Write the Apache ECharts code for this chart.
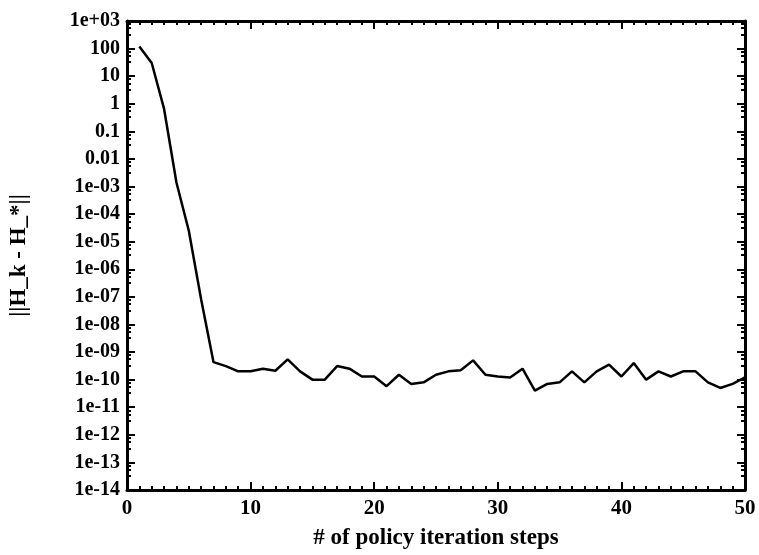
<!DOCTYPE html>
<html>
<head>
<meta charset="utf-8">
<script src="https://cdn.jsdelivr.net/npm/echarts@6/dist/echarts.min.js"></script>
<style>
  html, body { margin: 0; padding: 0; background: #fff; }
  #chart { width: 759px; height: 555px; }
</style>
</head>
<body>
<div id="chart"></div>
<script>
// policy iteration step numbers
var steps = [1, 2, 3, 4, 5, 6, 7, 8, 9, 10,
  11, 12, 13, 14, 15, 16, 17, 18, 19, 20,
  21, 22, 23, 24, 25, 26, 27, 28, 29, 30,
  31, 32, 33, 34, 35, 36, 37, 38, 39, 40,
  41, 42, 43, 44, 45, 46, 47, 48, 49, 50];
// ||H_k - H_*||
var errNorm = [120, 30, 0.65, 1.4e-3, 2.5e-5, 8e-8, 4.3e-10, 3.1e-10, 2e-10, 2e-10,
  2.5e-10, 2.1e-10, 5.4e-10, 2e-10, 1e-10, 1e-10, 3.1e-10, 2.5e-10, 1.3e-10, 1.3e-10,
  5.8e-11, 1.5e-10, 7e-11, 8e-11, 1.5e-10, 2e-10, 2.2e-10, 5e-10, 1.5e-10, 1.3e-10,
  1.2e-10, 2.5e-10, 4e-11, 7e-11, 8e-11, 2e-10, 8e-11, 2e-10, 3.5e-10, 1.3e-10,
  4e-10, 1e-10, 2e-10, 1.3e-10, 2e-10, 2e-10, 8e-11, 5e-11, 7e-11, 1.2e-10];
var xTicks = [0, 10, 20, 30, 40, 50];

var font = 'Liberation Serif';

function fmtLog(v) {
  var e = Math.round(Math.log10(v));
  if (e >= -2 && e <= 2) {
    return e >= 0 ? String(Math.pow(10, e)) : Math.pow(10, e).toFixed(-e);
  }
  var a = Math.abs(e);
  return '1e' + (e < 0 ? '-' : '+') + (a < 10 ? '0' + a : a);
}

var chart = echarts.init(document.getElementById('chart'));

var lineStyle = { color: '#000', width: 3 };
var data = steps.map(function (s, i) { return [s, errNorm[i]]; });

chart.setOption({
  animation: false,
  grid: { left: 119, right: 14, top: 21, bottom: 63 },
  xAxis: [{
    type: 'value',
    min: xTicks[0],
    max: xTicks[xTicks.length - 1],
    interval: 10,
    name: '# of policy iteration steps',
    nameLocation: 'middle',
    nameGap: 37,
    nameTextStyle: { fontFamily: font, fontWeight: 'bold', fontSize: 23, color: '#000' },
    axisLine: { onZero: false, lineStyle: lineStyle },
    axisTick: { inside: true, length: 8, lineStyle: { color: '#000', width: 2 } },
    minorTick: { show: true, splitNumber: 10, length: 4, lineStyle: { color: '#000', width: 2 } },
    axisLabel: { fontFamily: font, fontWeight: 'bold', fontSize: 21, color: '#000', margin: 8 },
    splitLine: { show: false }
  }, {
    type: 'value',
    position: 'top',
    min: 0, max: 50, interval: 10,
    axisLine: { onZero: false, lineStyle: lineStyle },
    axisTick: { inside: true, length: 8, lineStyle: { color: '#000', width: 2 } },
    minorTick: { show: true, splitNumber: 10, length: 4, lineStyle: { color: '#000', width: 2 } },
    axisLabel: { show: false },
    splitLine: { show: false }
  }],
  yAxis: [{
    type: 'log',
    logBase: 10,
    min: 1e-14,
    max: 1e3,
    interval: 1,
    name: '||H_k - H_*||',
    nameLocation: 'middle',
    nameGap: 96,
    nameTextStyle: { fontFamily: font, fontWeight: 'bold', fontSize: 23, color: '#000' },
    axisLine: { onZero: false, lineStyle: lineStyle },
    axisTick: { inside: true, length: 8, lineStyle: { color: '#000', width: 2 } },
    minorTick: { show: true, splitNumber: 4, length: 4, lineStyle: { color: '#000', width: 2 } },
    axisLabel: { interval: 0, formatter: fmtLog, fontFamily: font, fontWeight: 'bold', fontSize: 20, color: '#000', margin: 7 },
    splitLine: { show: false }
  }, {
    type: 'log',
    logBase: 10,
    position: 'right',
    min: 1e-14,
    max: 1e3,
    interval: 1,
    axisLine: { onZero: false, lineStyle: lineStyle },
    axisTick: { inside: true, length: 8, lineStyle: { color: '#000', width: 2 } },
    minorTick: { show: true, splitNumber: 4, length: 4, lineStyle: { color: '#000', width: 2 } },
    axisLabel: { show: false },
    splitLine: { show: false }
  }],
  series: [{
    type: 'line',
    xAxisIndex: 0,
    yAxisIndex: 0,
    data: data,
    showSymbol: false,
    lineStyle: { color: '#000', width: 2.5 }
  }]
});
</script>
</body>
</html>
